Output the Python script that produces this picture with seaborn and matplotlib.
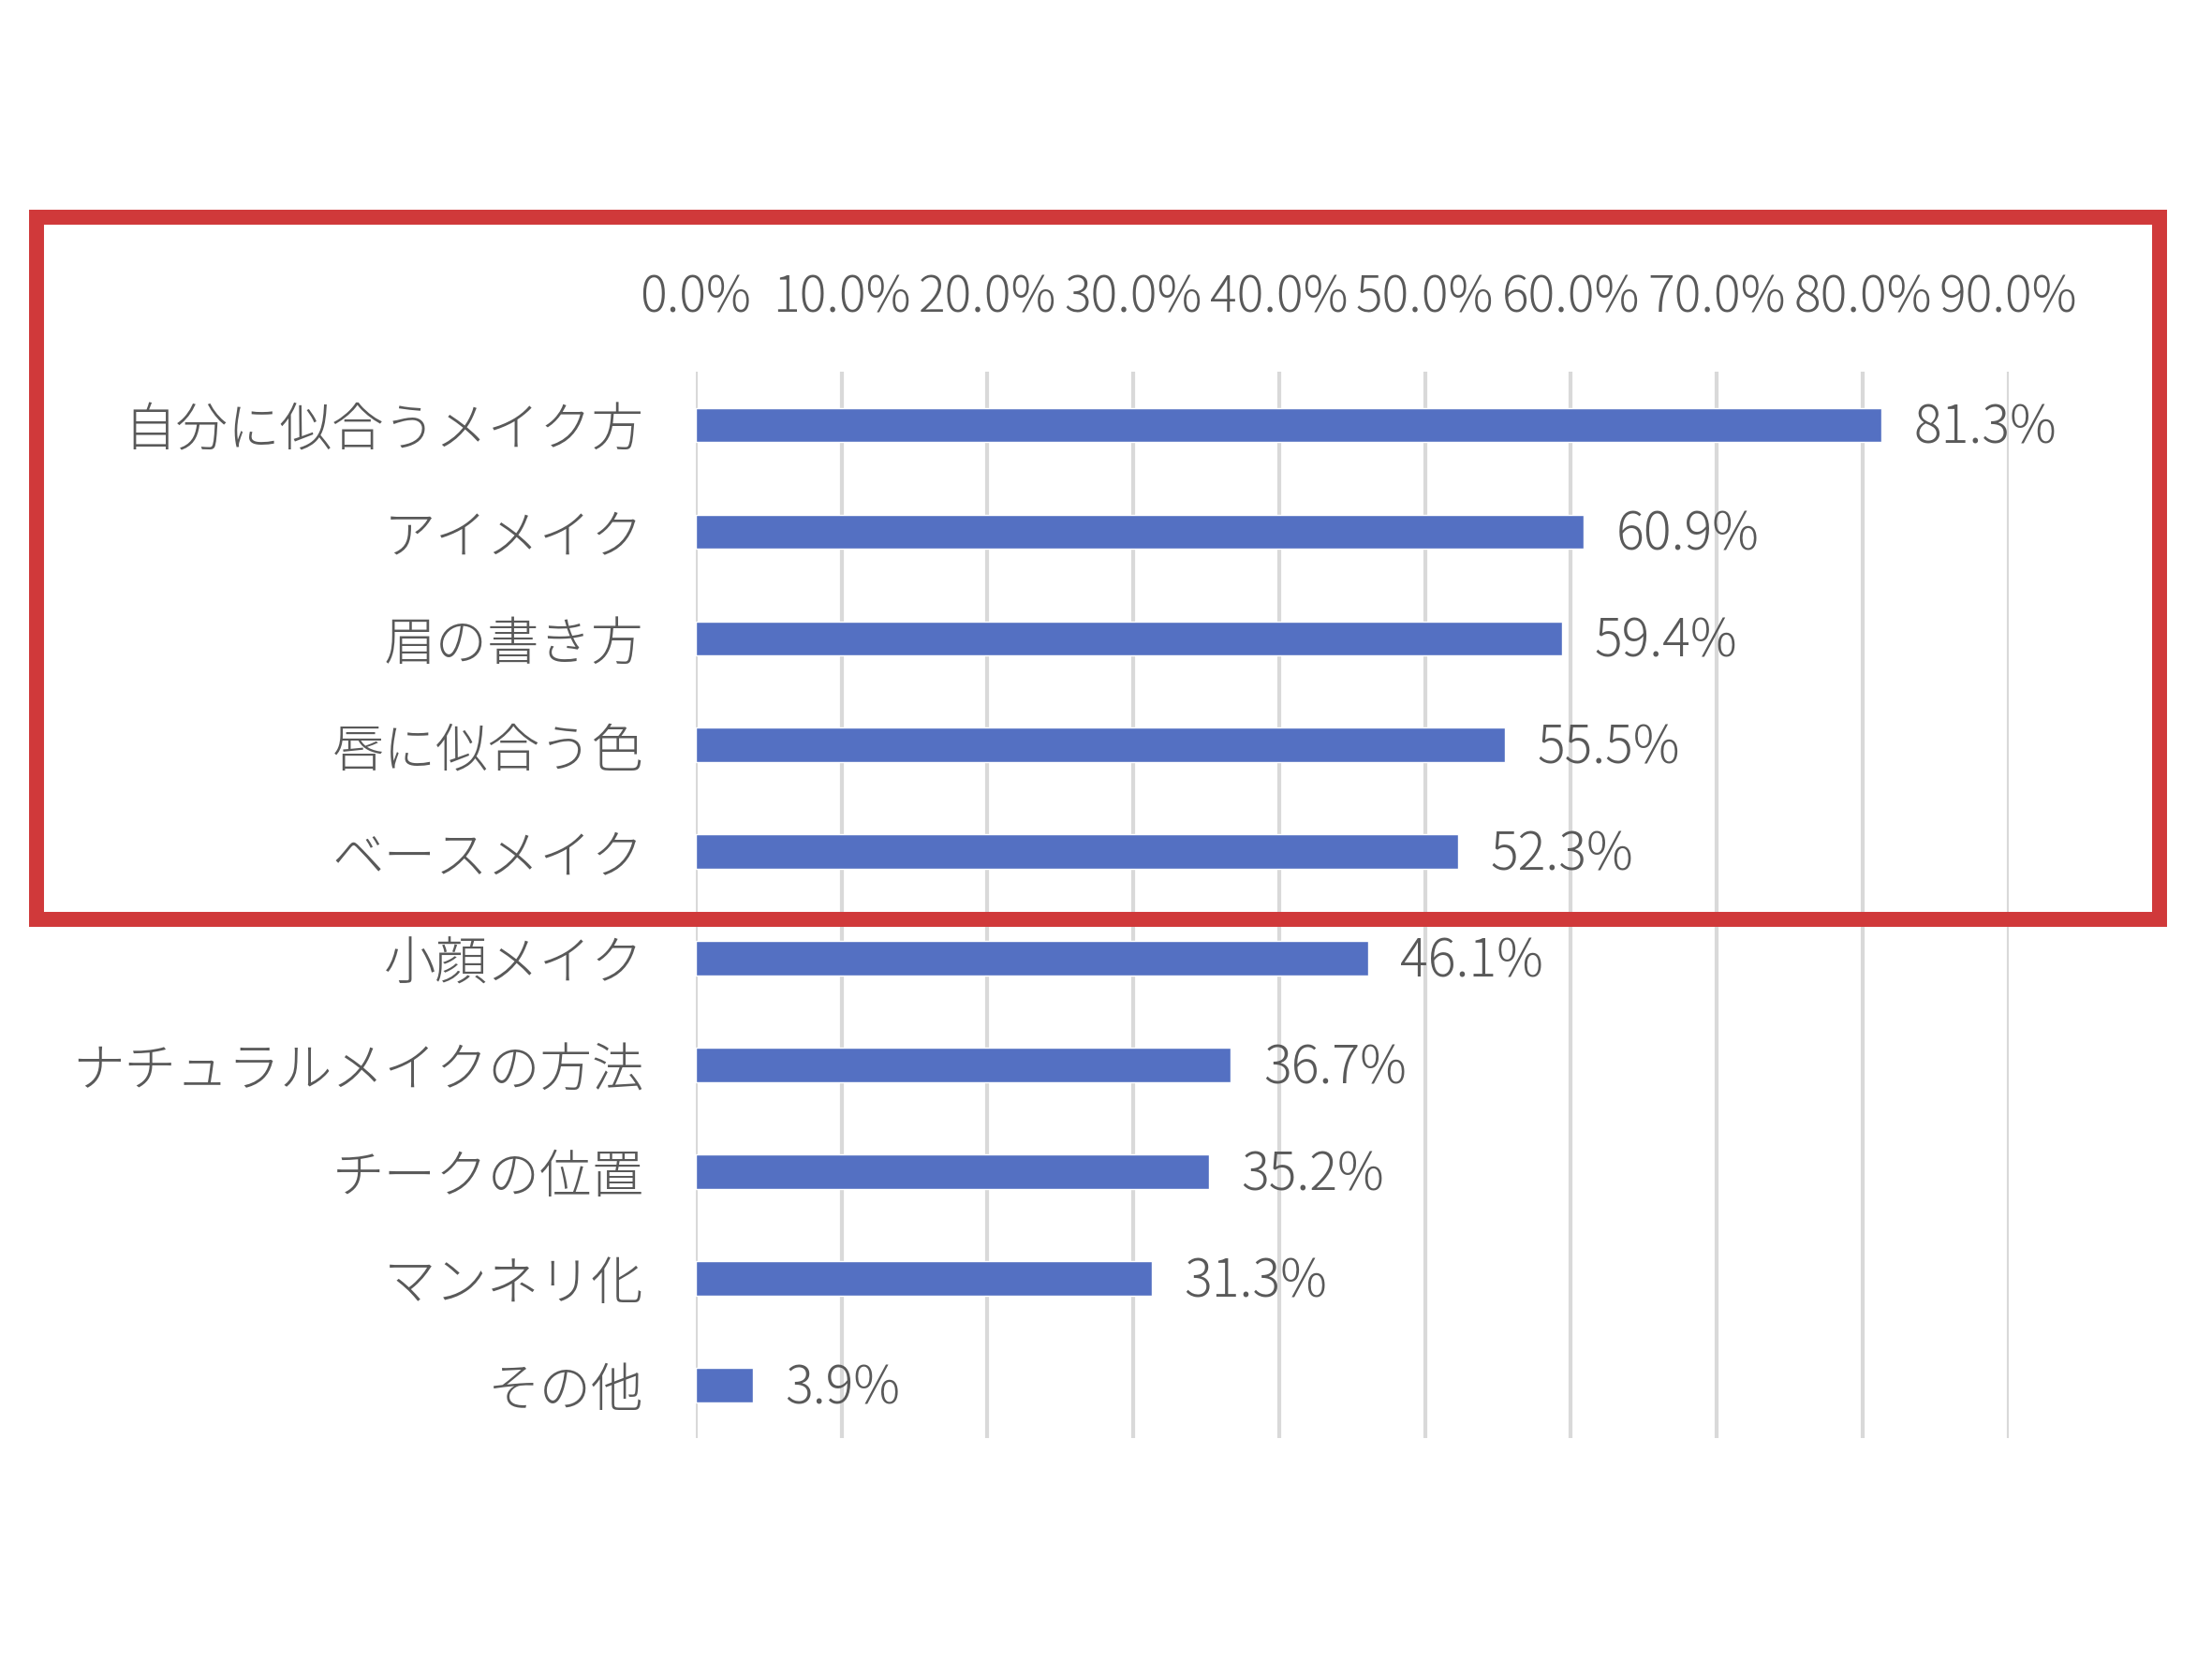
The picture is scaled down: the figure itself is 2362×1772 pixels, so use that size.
import matplotlib
matplotlib.use("Agg")
import matplotlib.pyplot as plt
import matplotlib.patches as patches
from matplotlib.ticker import FuncFormatter, MultipleLocator
import pandas as pd
import seaborn as sns

# data
categories = [
    "自分に似合うメイク方",
    "アイメイク",
    "眉の書き方",
    "唇に似合う色",
    "ベースメイク",
    "小顔メイク",
    "ナチュラルメイクの方法",
    "チークの位置",
    "マンネリ化",
    "その他",
]
values = [81.3, 60.9, 59.4, 55.5, 52.3, 46.1, 36.7, 35.2, 31.3, 3.9]

df = pd.DataFrame({"item": categories, "pct": values})

sns.set_theme(style="white")
plt.rcParams["font.family"] = ["Noto Sans CJK JP", "DejaVu Sans"]
plt.rcParams["font.weight"] = "light"

text_color = "#595959"
bar_color = "#5470C2"
grid_color = "#D9D9D9"

fig = plt.figure(figsize=(23.62, 17.72), dpi=100)
fig.patch.set_facecolor("white")

# red highlight frame behind the chart
frame = patches.Rectangle(
    (0.0165, 0.446), 0.9600, 0.423,
    transform=fig.transFigure, fill=False,
    edgecolor="#D0393A", linewidth=11.5, zorder=0,
)
fig.patches.append(frame)

ax = fig.add_axes([0.3145, 0.133, 0.5935, 0.643])
ax.patch.set_alpha(0)

sns.barplot(data=df, x="pct", y="item", color=bar_color, width=0.32,
            saturation=1, ax=ax, zorder=3)

ax.set_xlim(0, 90)
ax.set_ylim(9.5, -0.5)
ax.xaxis.set_major_locator(MultipleLocator(10))
ax.xaxis.set_major_formatter(FuncFormatter(lambda v, p: f"{v:.1f}%"))
ax.xaxis.tick_top()
ax.tick_params(axis="x", length=0, pad=36, labelsize=38.5, colors=text_color)
ax.tick_params(axis="y", length=0, pad=40, labelsize=40, colors=text_color)
ax.set_xlabel("")
ax.set_ylabel("")

ax.grid(axis="x", color=grid_color, linewidth=3, zorder=1)
ax.set_axisbelow(True)
for s in ax.spines.values():
    s.set_visible(False)

for i, v in enumerate(values):
    ax.text(v + 2.2, i + 0.03, f"{v:.1f}%", va="center", ha="left",
            fontsize=40, color=text_color)

fig.savefig("out.png", dpi=100)
